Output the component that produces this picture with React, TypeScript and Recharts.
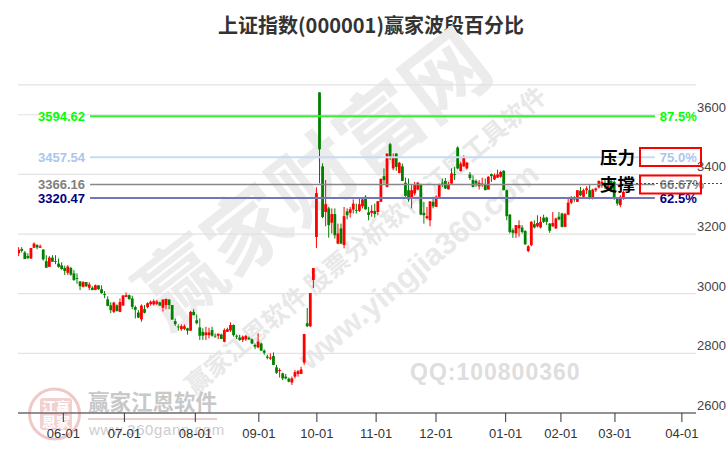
import React from "react";
import { ComposedChart, Bar, XAxis, YAxis, CartesianGrid, ReferenceLine } from "recharts";

const highs = [3156,3156,3143,3135,3153,3172,3166,3165,3149,3129,3126,3129,3129,3118,3105,3094,3096,3090,3079,3068,3042,3042,3039,3038,3025,3031,3028,3028,3009,2991,2971,2973,2964,2984,2995,3004,2997,2993,2960,2945,2964,2962,2971,2977,2981,2979,2973,2982,2984,2982,2962,2917,2897,2897,2897,2886,2942,2948,2930,2917,2884,2889,2886,2889,2867,2866,2866,2884,2886,2904,2897,2863,2862,2860,2862,2856,2850,2833,2867,2836,2813,2796,2800,2803,2761,2750,2735,2731,2719,2722,2744,2744,2755,2865,2952,3002,3086,3357,3675,3437,3381,3291,3286,3286,3235,3235,3291,3286,3291,3316,3302,3319,3319,3330,3291,3297,3302,3311,3386,3420,3470,3506,3470,3470,3442,3436,3389,3386,3364,3375,3375,3369,3308,3291,3311,3325,3330,3369,3386,3388,3375,3420,3425,3494,3442,3464,3442,3408,3397,3383,3381,3389,3386,3394,3403,3403,3416,3412,3414,3349,3267,3219,3230,3246,3230,3213,3163,3243,3246,3263,3258,3265,3258,3237,3274,3255,3274,3271,3271,3319,3327,3327,3347,3358,3352,3360,3364,3352,3356,3380,3385,3385,3380,3385,3380,3320,3330,3345];
const lows = [3126,3138,3116,3116,3116,3154,3149,3154,3111,3087,3090,3107,3099,3087,3080,3063,3063,3060,3043,3033,3012,3021,3023,3012,3012,3012,3013,3000,2985,2958,2935,2935,2940,2938,2960,2989,2980,2948,2917,2918,2906,2934,2951,2960,2960,2962,2960,2940,2948,2948,2913,2892,2876,2876,2878,2863,2876,2928,2897,2845,2845,2845,2850,2856,2852,2848,2848,2837,2872,2872,2856,2848,2842,2838,2842,2845,2831,2814,2817,2808,2795,2780,2778,2761,2731,2719,2710,2713,2703,2694,2716,2722,2731,2761,2888,2888,3019,3153,3370,3253,3226,3188,3202,3185,3166,3166,3152,3249,3255,3269,3269,3274,3286,3282,3246,3258,3255,3263,3307,3369,3356,3448,3414,3412,3403,3378,3325,3308,3286,3330,3347,3263,3235,3249,3226,3286,3291,3322,3358,3351,3349,3368,3381,3417,3410,3425,3416,3381,3356,3358,3349,3358,3347,3349,3375,3381,3388,3389,3347,3246,3202,3187,3187,3191,3202,3163,3139,3159,3219,3222,3219,3237,3230,3204,3224,3217,3246,3222,3223,3263,3300,3308,3307,3327,3322,3334,3316,3316,3341,3353,3355,3350,3345,3340,3315,3295,3290,3315];
const opens = [3136,3150,3138,3126,3118,3154,3163,3154,3148,3109,3090,3121,3107,3101,3095,3086,3070,3086,3068,3052,3041,3023,3039,3020,3020,3013,3028,3015,2999,2981,2961,2939,2961,2939,2960,2989,2995,2984,2955,2937,2914,2948,2955,2965,2964,2966,2971,2953,2962,2980,2962,2908,2890,2881,2882,2884,2876,2939,2911,2887,2872,2861,2861,2878,2859,2859,2863,2839,2872,2877,2895,2859,2853,2845,2847,2852,2847,2828,2820,2833,2809,2789,2782,2791,2753,2741,2733,2722,2715,2702,2722,2731,2731,2769,2901,2891,3046,3190,3675,3427,3274,3286,3238,3267,3168,3219,3163,3276,3271,3282,3280,3278,3293,3325,3273,3271,3277,3274,3308,3394,3358,3501,3420,3470,3405,3427,3372,3347,3319,3336,3349,3367,3271,3253,3246,3308,3291,3325,3372,3378,3350,3369,3401,3490,3411,3427,3420,3400,3381,3378,3360,3364,3367,3349,3401,3383,3389,3392,3412,3347,3265,3213,3202,3219,3222,3210,3143,3163,3233,3226,3222,3255,3255,3235,3226,3219,3258,3269,3224,3265,3305,3322,3308,3345,3325,3347,3347,3319,3347,3356,3362,3372,3352,3378,3375,3319,3297,3319];
const closes = [3147,3144,3116,3120,3153,3168,3155,3159,3115,3087,3121,3107,3109,3090,3083,3076,3091,3064,3046,3050,3025,3039,3025,3031,3012,3028,3015,3002,2996,2959,2945,2970,2942,2972,2994,2995,2982,2956,2946,2920,2960,2936,2968,2973,2975,2974,2960,2980,2982,2962,2913,2898,2887,2891,2891,2876,2939,2928,2901,2859,2859,2870,2870,2859,2857,2866,2848,2878,2881,2895,2861,2857,2845,2856,2858,2847,2833,2822,2839,2809,2802,2785,2786,2761,2735,2744,2716,2716,2705,2716,2737,2740,2746,2865,2891,3002,3086,3337,3484,3257,3300,3230,3267,3196,3202,3168,3260,3263,3283,3302,3278,3300,3316,3283,3264,3278,3267,3310,3385,3381,3470,3456,3456,3425,3439,3378,3328,3316,3347,3364,3372,3265,3263,3260,3309,3293,3325,3366,3369,3353,3364,3403,3398,3420,3436,3459,3439,3388,3358,3369,3372,3369,3347,3392,3394,3397,3400,3408,3347,3260,3207,3204,3230,3230,3207,3166,3159,3241,3222,3237,3241,3241,3241,3211,3237,3252,3249,3224,3267,3305,3319,3316,3347,3330,3347,3353,3319,3349,3353,3378,3375,3360,3370,3350,3319,3302,3325,3341];

const tickPositions = [14.5, 34.4, 57.5, 78.2, 97.1, 116.4, 135.9, 158.6, 176.6, 194.2, 216];
const tickLabels = ["06-01","07-01","08-01","09-01","10-01","11-01","12-01","01-01","02-01","03-01","04-01"];
const priceTicks = [2600, 2800, 3000, 3200, 3400, 3600];

const levelValues = [3594.62, 3457.54, 3366.16, 3320.47];
const levelNames = ["3594.62", "3457.54", "3366.16", "3320.47"];
const levelPercents = ["87.5%", "75.0%", "66.67%", "62.5%"];
const levelTextColors = ["#00ff00", "#aac6ee", "#808080", "#000080"];
const levelLineColors = ["#33f033", "#c6dbf6", "#888888", "#7575ba"];
const levelLineWidths = [2, 2, 1.4, 2];

const rows = highs.map((h, i) => ({
  idx: i,
  range: [lows[i], h],
  open: opens[i],
  close: closes[i],
  high: h,
  low: lows[i],
}));

const FONT = "'Liberation Sans', Arial, sans-serif";
const CJK = "'Noto Sans CJK SC', sans-serif";

function Candle(props: any) {
  const { x, y, width, height, payload } = props;
  const { open, close, high, low } = payload;
  const up = close >= open;
  const color = up ? "#ff0000" : "#008000";
  const span = high - low || 1;
  const toY = (v: number) => y + ((high - v) / span) * height;
  const top = toY(Math.max(open, close));
  const bot = toY(Math.min(open, close));
  const cx = x + width / 2;
  return (
    <g>
      <line x1={cx} x2={cx} y1={y} y2={y + height} stroke={color} strokeWidth={1} />
      <rect x={x} y={top} width={width} height={Math.max(bot - top, 0.8)} fill={color} />
    </g>
  );
}

function LevelLabel(props: any) {
  const { viewBox, name, percent, color } = props;
  const y = viewBox.y + 4.5;
  return (
    <g>
      <text x={viewBox.x - 5} y={y} textAnchor="end" fontSize={13} fontWeight="bold" fontFamily={FONT} fill={color}>{name}</text>
      <text x={viewBox.x + viewBox.width + 5} y={y} fontSize={13} fontWeight="bold" fontFamily={FONT} fill={color}>{percent}</text>
    </g>
  );
}

function PriceTick(props: any) {
  const { y, payload } = props;
  return (
    <text x={697} y={y - 3} fontSize={13} fontFamily={FONT} fill="#444">{payload.value}</text>
  );
}

export default function App() {
  return (
    <div style={{ position: "absolute", left: 0, top: 0, width: 726, height: 450, background: "#fff", overflow: "hidden" }}>
      <svg width={726} height={450} style={{ position: "absolute", left: 0, top: 0 }}>
        <text x={371} y={33} textAnchor="middle" fontSize={20} fontWeight="bold" fontFamily={CJK} fill="#333">上证指数(000001)赢家波段百分比</text>
        <text transform="translate(318,185) rotate(-38)" textAnchor="middle" dominantBaseline="middle" fontSize={84} fontWeight="bold" fontFamily={CJK} fill="#ececec">赢家财富网</text>
        <text transform="translate(367,242) rotate(-40)" textAnchor="middle" dominantBaseline="middle" fontSize={25} fontWeight="bold" fontFamily={CJK} fill="#e8e8e8">赢家江恩软件 股票分析软件 江恩工具软件</text>
        <text transform="translate(420,268) rotate(-40)" textAnchor="middle" dominantBaseline="middle" fontSize={31} fontWeight="bold" fontFamily={FONT} fill="#e9e9e9">www.yingjia360.com</text>
        <text x={410} y={380} fontSize={23} fontWeight="bold" fontFamily={FONT} letterSpacing={1} fill="#dedede">QQ:100800360</text>
        <circle cx={54.5} cy={414} r={25} fill="none" stroke="#f0c8c8" strokeWidth={3} />
        <rect x={40} y={398} width={32} height={32} rx={3} fill="#f3d0d0" />
        <text x={56} y={412} textAnchor="middle" fontSize={14} fontWeight="bold" fontFamily={CJK} fill="#fff">江赢</text>
        <text x={56} y={427} textAnchor="middle" fontSize={14} fontWeight="bold" fontFamily={CJK} fill="#fff">恩家</text>
        <text x={88} y={410} fontSize={21.5} fontWeight="bold" fontFamily={CJK} fill="#c8c8c8">赢家江恩软件</text>
        <rect x={88} y={418} width={129} height={2} fill="#eccccc" />
        <text x={89} y={435} fontSize={15} fontFamily={FONT} letterSpacing={0.6} fill="#cccccc">www.360gann.com</text>
      </svg>
      <div style={{ position: "absolute", left: 0, top: 0 }}>
        <ComposedChart
          width={726}
          height={450}
          data={rows}
          margin={{ top: 84.9, right: 0, bottom: 0, left: 18 }}
          barCategoryGap={0}
        >
          <CartesianGrid horizontal vertical={false} stroke="#e2e2e2" strokeWidth={1.2} />
          <XAxis
            type="number"
            dataKey="idx"
            domain={[-0.26, 220.6]}
            ticks={tickPositions}
            interval={0}
            allowDataOverflow
            height={37}
            tickSize={9}
            tickMargin={7}
            stroke="#333"
            tick={{ fontSize: 13, fontFamily: FONT, fill: "#333" }}
            tickFormatter={(v: number) => tickLabels[tickPositions.indexOf(v)] ?? ""}
          />
          <YAxis
            orientation="right"
            width={30}
            domain={[2600, 3700]}
            ticks={priceTicks}
            interval={0}
            allowDataOverflow
            axisLine={false}
            tickLine={false}
            tick={<PriceTick />}
          />
          <Bar dataKey="range" barSize={2.8} shape={<Candle />} isAnimationActive={false} />
          {levelValues.map((v, i) => (
            <ReferenceLine
              key={levelNames[i]}
              segment={[{ x: 23.2, y: v }, { x: 207.2, y: v }]}
              stroke={levelLineColors[i]}
              strokeWidth={levelLineWidths[i]}
              ifOverflow="visible"
              label={<LevelLabel name={levelNames[i]} percent={levelPercents[i]} color={levelTextColors[i]} />}
            />
          ))}
        </ComposedChart>
      </div>
      <svg width={726} height={450} style={{ position: "absolute", left: 0, top: 0, pointerEvents: "none" }}>
        <line x1={636} x2={724} y1={183.5} y2={183.5} stroke="#008000" strokeWidth={1} strokeDasharray="2 2" />
        <rect x={640} y={148} width={61} height={18} fill="none" stroke="#ff0000" strokeWidth={2} />
        <rect x={640} y={175.5} width={61} height={18} fill="none" stroke="#ff0000" strokeWidth={2} />
        <text x={600} y={164} fontSize={17.5} fontWeight="bold" fontFamily={CJK} fill="#000">压力</text>
        <text x={600} y={191} fontSize={17.5} fontWeight="bold" fontFamily={CJK} fill="#000">支撑</text>
      </svg>
    </div>
  );
}
